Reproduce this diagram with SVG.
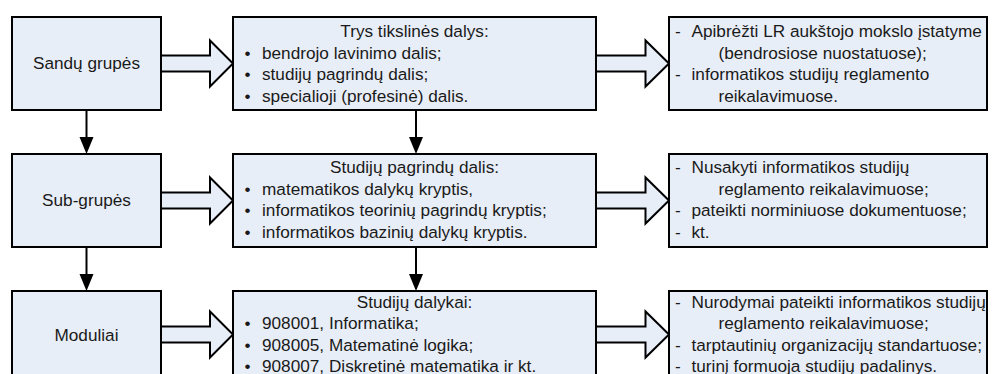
<svg xmlns="http://www.w3.org/2000/svg" width="993" height="374" viewBox="0 0 993 374">
  <style>
    .box { fill: #e8eef7; stroke: #000; stroke-width: 2; }
    .barrow { fill: #e8eef7; stroke: #000; stroke-width: 2; stroke-linejoin: miter; }
    .line { stroke: #000; stroke-width: 2; fill: none; }
    .head { fill: #000; stroke: none; }
    text { font-family: "Liberation Sans", Arial, sans-serif; font-size: 17.2px; fill: #1a1a1a; }
    .c { text-anchor: middle; }
  </style>
  <rect width="993" height="374" fill="#ffffff"/>

  <!-- connectors -->
  <g id="connectors">
    <!-- wide arrows from left column to middle column -->
    <polygon class="barrow" points="161,55.5 210,55.5 210,40.5 233,63.5 210,86.5 210,71.5 161,71.5"/>
    <polygon class="barrow" points="161,192.5 210,192.5 210,177.5 233,200.5 210,223.5 210,208.5 161,208.5"/>
    <polygon class="barrow" points="161,326.5 210,326.5 210,311.5 233,334.5 210,357.5 210,342.5 161,342.5"/>
    <!-- wide arrows from middle column to right column -->
    <polygon class="barrow" points="596,55.5 645.5,55.5 645.5,40.5 669,63.5 645.5,86.5 645.5,71.5 596,71.5"/>
    <polygon class="barrow" points="596,192.5 645.5,192.5 645.5,177.5 669,200.5 645.5,223.5 645.5,208.5 596,208.5"/>
    <polygon class="barrow" points="596,326.5 645.5,326.5 645.5,311.5 669,334.5 645.5,357.5 645.5,342.5 596,342.5"/>
    <!-- vertical arrows, left column -->
    <line class="line" x1="86.5" y1="110" x2="86.5" y2="140"/>
    <polygon class="head" points="79.5,137 93.5,137 86.5,154"/>
    <line class="line" x1="86.5" y1="247" x2="86.5" y2="277"/>
    <polygon class="head" points="79.5,274 93.5,274 86.5,291"/>
    <!-- vertical arrows, middle column -->
    <line class="line" x1="416" y1="110" x2="416" y2="140"/>
    <polygon class="head" points="409,137 423,137 416,154"/>
    <line class="line" x1="416" y1="247" x2="416" y2="277"/>
    <polygon class="head" points="409,274 423,274 416,291"/>
  </g>

  <!-- row 1 -->
  <g id="sandu-grupes">
    <rect class="box" x="12" y="17" width="149" height="93"/>
    <text class="c" x="86.5" y="69">Sandų grupės</text>
  </g>
  <g id="trys-dalys">
    <rect class="box" x="233" y="17" width="363" height="93"/>
    <text class="c" x="414.5" y="37">Trys tikslinės dalys:</text>
    <text class="c" x="247.5" y="58.5">•</text>
    <text x="262" y="58.5">bendrojo lavinimo dalis;</text>
    <text class="c" x="247.5" y="80">•</text>
    <text x="262" y="80">studijų pagrindų dalis;</text>
    <text class="c" x="247.5" y="101.5">•</text>
    <text x="262" y="101.5">specialioji (profesinė) dalis.</text>
  </g>
  <g id="apibrezti">
    <rect class="box" x="669" y="17" width="318" height="93"/>
    <text y="37"><tspan x="675">-</tspan><tspan x="691.5">Apibrėžti LR aukštojo mokslo įstatyme</tspan></text>
    <text x="718.5" y="58.5">(bendrosiose nuostatuose);</text>
    <text y="80"><tspan x="675">-</tspan><tspan x="691.5">informatikos studijų reglamento</tspan></text>
    <text x="718.5" y="101.5">reikalavimuose.</text>
  </g>

  <!-- row 2 -->
  <g id="sub-grupes">
    <rect class="box" x="12" y="154" width="149" height="93"/>
    <text class="c" x="86.5" y="206">Sub-grupės</text>
  </g>
  <g id="studiju-pagrindu-dalis">
    <rect class="box" x="233" y="154" width="363" height="93"/>
    <text class="c" x="414.5" y="173">Studijų pagrindų dalis:</text>
    <text class="c" x="247.5" y="194.5">•</text>
    <text x="262" y="194.5">matematikos dalykų kryptis,</text>
    <text class="c" x="247.5" y="216">•</text>
    <text x="262" y="216">informatikos teorinių pagrindų kryptis;</text>
    <text class="c" x="247.5" y="237.5">•</text>
    <text x="262" y="237.5">informatikos bazinių dalykų kryptis.</text>
  </g>
  <g id="nusakyti">
    <rect class="box" x="669" y="154" width="318" height="93"/>
    <text y="173"><tspan x="675">-</tspan><tspan x="691.5">Nusakyti informatikos studijų</tspan></text>
    <text x="718.5" y="194.5">reglamento reikalavimuose;</text>
    <text y="216"><tspan x="675">-</tspan><tspan x="691.5">pateikti norminiuose dokumentuose;</tspan></text>
    <text y="237.5"><tspan x="675">-</tspan><tspan x="691.5">kt.</tspan></text>
  </g>

  <!-- row 3 (runs past the bottom edge) -->
  <g id="moduliai">
    <rect class="box" x="12" y="291" width="149" height="93"/>
    <text class="c" x="86.5" y="341">Moduliai</text>
  </g>
  <g id="studiju-dalykai">
    <rect class="box" x="233" y="291" width="363" height="93"/>
    <text class="c" x="414.5" y="307.5">Studijų dalykai:</text>
    <text class="c" x="247.5" y="329">•</text>
    <text x="262" y="329">908001, Informatika;</text>
    <text class="c" x="247.5" y="350.5">•</text>
    <text x="262" y="350.5">908005, Matematinė logika;</text>
    <text class="c" x="247.5" y="372">•</text>
    <text x="262" y="372">908007, Diskretinė matematika ir kt.</text>
  </g>
  <g id="nurodymai">
    <rect class="box" x="669" y="291" width="318" height="93"/>
    <text y="307.5"><tspan x="675">-</tspan><tspan x="691.5">Nurodymai pateikti informatikos studijų</tspan></text>
    <text x="718.5" y="329">reglamento reikalavimuose;</text>
    <text y="350.5"><tspan x="675">-</tspan><tspan x="691.5">tarptautinių organizacijų standartuose;</tspan></text>
    <text y="372"><tspan x="675">-</tspan><tspan x="691.5">turinį formuoja studijų padalinys.</tspan></text>
  </g>
</svg>
